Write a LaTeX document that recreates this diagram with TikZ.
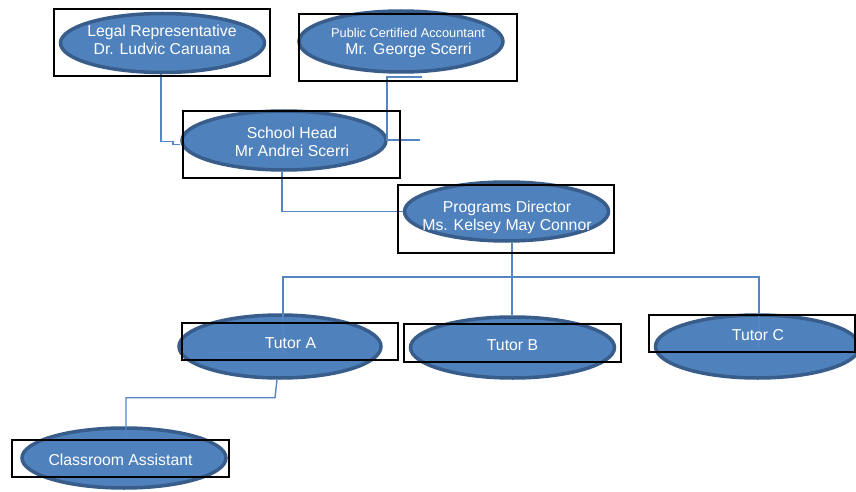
\documentclass[tikz,border=0pt]{standalone}
\usepackage{fontspec}
\setmainfont{Liberation Sans}
\usepackage{tikz}
\usepackage{xcolor}
\usetikzlibrary{shapes.geometric,positioning,calc}
\definecolor{ovalfill}{HTML}{4F81BD}
\definecolor{ovaledge}{HTML}{385D8A}
\definecolor{linkblue}{HTML}{5585C5}
\tikzset{
  oval/.style={ellipse,fill=ovalfill,draw=ovaledge,line width=3.5pt,inner sep=0pt,minimum width=204pt,minimum height=59pt},
  caption/.style={text=white,align=center,inner sep=0pt,text depth=0pt,font=\fontsize{15.8}{18}\selectfont},
  frame/.style={draw=black,line width=1.4pt},
  link/.style={draw=linkblue,line width=1.4pt}
}

\begin{document}
\begin{tikzpicture}[x=1pt,y=-1pt]
      \clip (0,0) rectangle (856,492);
      \fill[white] (0,0) rectangle (856,492);
      \node[oval] (legal) at (162.5,43) {};
      \node[oval,minimum height=61pt] (acct) at (401,41.5) {};
      \node[oval] (head) at (284,140.5) {};
      \node[oval] (prog) at (506.5,211.5) {};
      \node[oval,minimum width=202pt,minimum height=63pt] (tutA) at (280,346.5) {};
      \node[oval,minimum height=61pt] (tutB) at (512.5,347.5) {};
      \node[oval,minimum height=63pt] (tutC) at (757.5,346.5) {};
      \node[oval,minimum height=60pt] (asst) at (124,458) {};
      \coordinate (bus) at (512,277);
      \coordinate (acctstub) at (422,77);
      \coordinate (headstub) at (420,140);
      \draw[link] ([xshift=-1.5pt]legal.south) -- ++(0,67) -- ++(12,0) |- ([yshift=-4pt]head.west);
      \draw[link] (acctstub) -- ++(-35,0) |- (headstub);
      \draw[link] ([xshift=-2pt]head.south) |- (prog.west);
      \draw[link] (prog.south -| bus) -- (tutB.north -| bus);
      \draw[link] ([shift={(-67pt,-6pt)}]tutA.center) -- ++(70,0) |- (bus) -| ([shift={(1.5pt,0pt)}]tutC.center);
      \draw[link] ([xshift=-3pt]tutA.south) -- ++(-2,18) -| ([shift={(2pt,-16pt)}]asst.north);
      \foreach \xa/\ya/\xb/\yb in {54/9/270/76, 299/14/517/81, 183/111/400/178, 398/185/614/253,
                                   182/323/398/360, 404/324/621/362, 649/315/855/352, 12/440/229/477} {
        \draw[frame] (\xa,\ya) rectangle (\xb,\yb);
      }
      \node[caption] (legaltxt) at (162,40) {Legal Representative\\Dr. Ludvic Caruana};
      \node[caption,font=\fontsize{12.8}{15}\selectfont] (accttitle) at (408,32.8) {Public Certified Accountant};
      \node[caption] (acctname) at (408.5,49.2) {Mr. George Scerri};
      \node[caption] (headtxt) at (292,141.3) {School Head\\Mr Andrei Scerri};
      \node[caption] (progtxt) at (507,216) {Programs Director\\Ms. Kelsey May Connor};
      \node[caption] (tutAtxt) at (290.5,343.5) {Tutor A};
      \node[caption] (tutBtxt) at (512.5,345) {Tutor B};
      \node[caption] (tutCtxt) at (758,335) {Tutor C};
      \node[caption] (assttxt) at (120.5,460) {Classroom Assistant};
    \end{tikzpicture}
\end{document}
